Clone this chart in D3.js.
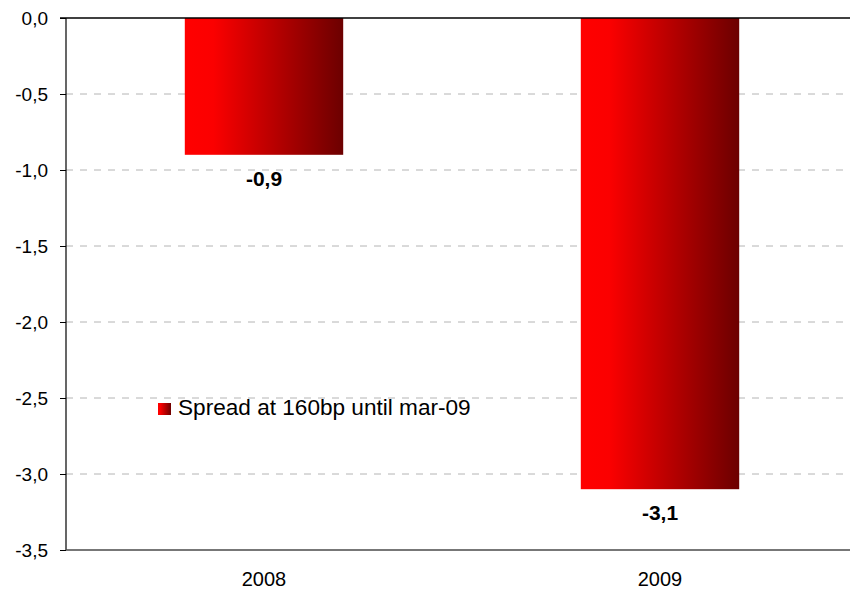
<!DOCTYPE html>
<html>
<head>
<meta charset="utf-8">
<script src="https://cdn.jsdelivr.net/npm/d3@7/dist/d3.min.js"></script>
<style>
  html, body { margin: 0; padding: 0; background: #fff; }
  svg { display: block; font-family: "Liberation Sans", Arial, sans-serif; }
</style>
</head>
<body>
<svg id="chart" width="850" height="593"></svg>
<script>
// Annual impact, in percentage points
const categories = ["2008", "2009"];
const values = [-0.9, -3.1];
const yTicks = [0, -0.5, -1, -1.5, -2, -2.5, -3, -3.5];
const seriesName = "Spread at 160bp until mar-09";

const svg = d3.select("#chart");
const margin = { left: 66, top: 18, right: -8, bottom: 43 };
const W = 850, H = 593;
const x0 = margin.left, x1 = W - margin.right;
const y0 = margin.top, y1 = H - margin.bottom;

const fmt = v => d3.format(".1f")(v).replace(".", ",").replace("−", "-");

const x = d3.scaleBand().domain(categories).range([x0, x1]).paddingInner(0.6).paddingOuter(0.3);
const y = d3.scaleLinear().domain([0, -3.5]).range([y0, y1]);

// Horizontal bar gradient: bright red to dark maroon
const defs = svg.append("defs");
const grad = defs.append("linearGradient").attr("id", "barGrad")
  .attr("x1", "0%").attr("x2", "100%").attr("y1", "0%").attr("y2", "0%");
grad.append("stop").attr("offset", "0%").attr("stop-color", "#ff0000");
grad.append("stop").attr("offset", "18%").attr("stop-color", "#fb0000");
grad.append("stop").attr("offset", "100%").attr("stop-color", "#6c0000");

// Dashed gridlines
svg.append("g").selectAll("line").data(yTicks.filter(t => t !== 0 && t !== -3.5)).join("line")
  .attr("x1", x0).attr("x2", W).attr("y1", d => y(d)).attr("y2", d => y(d))
  .attr("stroke", "#b4b4b4").attr("stroke-width", 1).attr("stroke-dasharray", "7,7");

// Y axis
const yAxis = d3.axisLeft(y).tickValues(yTicks).tickFormat(fmt).tickSize(6).tickPadding(12);
const gy = svg.append("g").attr("transform", `translate(${x0},0)`).call(yAxis);
gy.select(".domain").remove();
gy.selectAll(".tick line").attr("stroke", "#000");
gy.selectAll(".tick text").attr("font-size", 19).attr("fill", "#000")
  .attr("font-family", "Liberation Sans, Arial, sans-serif");
svg.append("line").attr("x1", x0).attr("x2", x0).attr("y1", y0).attr("y2", y1)
  .attr("stroke", "#000").attr("stroke-width", 1.2);

// Bottom axis line at -3.5
svg.append("line").attr("x1", x0).attr("x2", W).attr("y1", y1).attr("y2", y1)
  .attr("stroke", "#4a4a4a").attr("stroke-width", 1.5);

// Category labels
const xAxis = d3.axisBottom(x).tickSize(0).tickPadding(22);
const gx = svg.append("g").attr("transform", `translate(0,${y1})`).call(xAxis);
gx.select(".domain").remove();
gx.selectAll(".tick text").attr("font-size", 20).attr("fill", "#000")
  .attr("font-family", "Liberation Sans, Arial, sans-serif");

// Bars
svg.append("g").selectAll("rect").data(values).join("rect")
  .attr("x", (d, i) => x(categories[i]))
  .attr("width", x.bandwidth())
  .attr("y", y(0))
  .attr("height", d => y(d) - y(0))
  .attr("fill", "url(#barGrad)");

// Zero line on top
svg.append("line").attr("x1", x0 - 6).attr("x2", W).attr("y1", y0).attr("y2", y0)
  .attr("stroke", "#000").attr("stroke-width", 1.5);

// Value labels under each bar
svg.append("g").selectAll("text").data(values).join("text")
  .attr("x", (d, i) => x(categories[i]) + x.bandwidth() / 2)
  .attr("y", d => y(d) + 31)
  .attr("text-anchor", "middle")
  .attr("font-size", 21).attr("font-weight", "bold")
  .text(d => fmt(d));

// Legend
const lg = svg.append("g").attr("transform", "translate(158,403)");
lg.append("rect").attr("width", 13).attr("height", 12).attr("fill", "url(#barGrad)");
lg.append("text").attr("x", 20).attr("y", 12).attr("font-size", 22.6).text(seriesName);
</script>
</body>
</html>
